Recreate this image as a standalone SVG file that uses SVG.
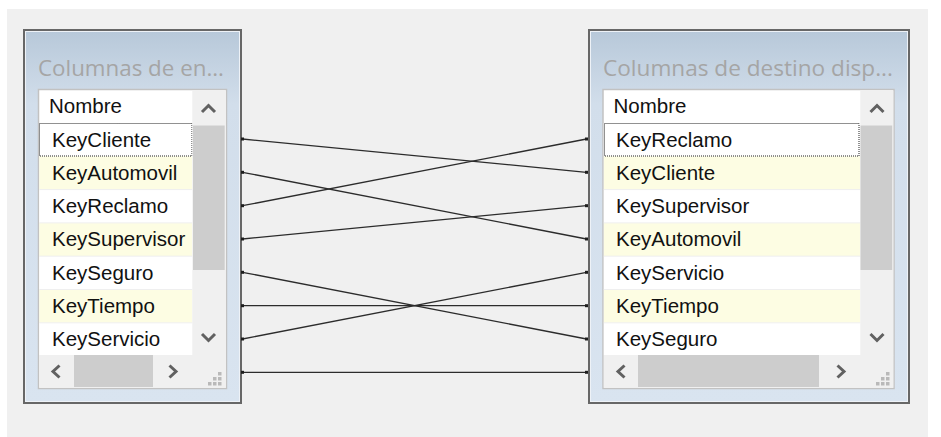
<svg xmlns="http://www.w3.org/2000/svg" width="941" height="437" viewBox="0 0 941 437">
  <defs>
    <linearGradient id="panelFill" x1="0" y1="0" x2="0" y2="1">
      <stop offset="0" stop-color="#b7c8d9"/>
      <stop offset="0.2" stop-color="#d2deeb"/>
      <stop offset="1" stop-color="#d9e4f0"/>
    </linearGradient>
    <marker id="dot" viewBox="0 0 4 4" refX="2" refY="2" markerWidth="4" markerHeight="4" markerUnits="userSpaceOnUse">
      <rect x="0.5" y="0.5" width="3" height="3" fill="#1e1e1e"/>
    </marker>
  </defs>
  <style>
    .frame { fill: url(#panelFill); stroke: #676767; stroke-width: 2; }
    .frame-inner { fill: none; stroke: #eef2f7; stroke-width: 1; }
    .title { font-family: "Open Sans", "Noto Sans", "Liberation Sans", sans-serif; font-size: 22px; fill: #a5a5a5; }
    .list { fill: #ffffff; stroke: #c2c2c2; stroke-width: 1.5; }
    .item { font-family: "Liberation Sans", Arial, sans-serif; font-size: 20.5px; fill: #111111; }
    .row-w { fill: #ffffff; }
    .row-y { fill: #fdfde3; }
    .sep { stroke: #efefef; stroke-width: 1; }
    .track { fill: #f0f0f0; }
    .thumb { fill: #cdcdcd; }
    .chev { fill: none; stroke: #616161; stroke-width: 3; stroke-linecap: butt; stroke-linejoin: miter; }
    .grip { fill: #b9b9b9; }
    .focus { fill: none; stroke: #222222; stroke-width: 1; stroke-dasharray: 1 1; }
    .link { stroke: #2c2c2c; stroke-width: 1.3; fill: none; marker-start: url(#dot); marker-end: url(#dot); }
  </style>

  <!-- canvas -->
  <rect x="0" y="0" width="941" height="437" fill="#ffffff"/>
  <rect x="7" y="9" width="921" height="428" fill="#f0f0f0"/>

  <!-- source column list -->
  <g id="source-panel">
    <rect class="frame" x="24" y="30" width="217" height="373"/>
    <rect class="frame-inner" x="25.5" y="31.5" width="214" height="370"/>
    <text class="title" x="38" y="76" textLength="186" lengthAdjust="spacingAndGlyphs">Columnas de en...</text>
    <rect class="list" x="38.5" y="89.5" width="188" height="299"/>

    <text class="item" x="49" y="113">Nombre</text>

    <g id="src-KeyCliente"><rect class="row-w" x="39.3" y="123" width="153" height="33.3"/><text class="item" x="52" y="146.5">KeyCliente</text></g>
    <g id="src-KeyAutomovil"><rect class="row-y" x="39.3" y="156.3" width="153" height="33.3"/><text class="item" x="52" y="179.8">KeyAutomovil</text></g>
    <g id="src-KeyReclamo"><rect class="row-w" x="39.3" y="189.6" width="153" height="33.3"/><text class="item" x="52" y="213.1">KeyReclamo</text></g>
    <g id="src-KeySupervisor"><rect class="row-y" x="39.3" y="222.9" width="153" height="33.3"/><text class="item" x="52" y="246.4">KeySupervisor</text></g>
    <g id="src-KeySeguro"><rect class="row-w" x="39.3" y="256.2" width="153" height="33.3"/><text class="item" x="52" y="279.7">KeySeguro</text></g>
    <g id="src-KeyTiempo"><rect class="row-y" x="39.3" y="289.5" width="153" height="33.3"/><text class="item" x="52" y="313">KeyTiempo</text></g>
    <g id="src-KeyServicio"><rect class="row-w" x="39.3" y="322.8" width="153" height="32.2"/><text class="item" x="52" y="346.3">KeyServicio</text></g>
    <path class="sep" d="M39.3 189.6H192.3M39.3 222.9H192.3M39.3 256.2H192.3M39.3 289.5H192.3M39.3 322.8H192.3"/>
    <rect class="focus" x="39.5" y="123.5" width="152.5" height="32.5"/>

    <!-- vertical scrollbar -->
    <rect class="track" x="192.3" y="90.3" width="33.5" height="265"/>
    <rect class="thumb" x="193" y="125.5" width="31.7" height="144.5"/>
    <polyline class="chev" points="202,112 208.5,105.5 215,112"/>
    <polyline class="chev" points="202,334 208.5,340.5 215,334"/>
    <!-- horizontal scrollbar -->
    <rect class="track" x="39.3" y="355" width="186.5" height="33"/>
    <rect class="thumb" x="74" y="355" width="79" height="32"/>
    <polyline class="chev" points="59.5,365.5 53,371.5 59.5,377.5"/>
    <polyline class="chev" points="169.5,365.5 176,371.5 169.5,377.5"/>
    <!-- size grip -->
    <path class="grip" d="M218 372h3.5v3.5h-3.5zM213 377h3.5v3.5h-3.5zM218 377h3.5v3.5h-3.5zM208 382h3.5v3.5h-3.5zM213 382h3.5v3.5h-3.5zM218 382h3.5v3.5h-3.5z"/>
  </g>

  <!-- destination column list -->
  <g id="dest-panel">
    <rect class="frame" x="589" y="30" width="320" height="373"/>
    <rect class="frame-inner" x="590.5" y="31.5" width="317" height="370"/>
    <text class="title" x="603" y="76" textLength="290" lengthAdjust="spacingAndGlyphs">Columnas de destino disp...</text>
    <rect class="list" x="603" y="89.5" width="291" height="299"/>

    <text class="item" x="613.5" y="113">Nombre</text>

    <g id="dst-KeyReclamo"><rect class="row-w" x="603.8" y="123" width="256.5" height="33.3"/><text class="item" x="616" y="146.5">KeyReclamo</text></g>
    <g id="dst-KeyCliente"><rect class="row-y" x="603.8" y="156.3" width="256.5" height="33.3"/><text class="item" x="616" y="179.8">KeyCliente</text></g>
    <g id="dst-KeySupervisor"><rect class="row-w" x="603.8" y="189.6" width="256.5" height="33.3"/><text class="item" x="616" y="213.1">KeySupervisor</text></g>
    <g id="dst-KeyAutomovil"><rect class="row-y" x="603.8" y="222.9" width="256.5" height="33.3"/><text class="item" x="616" y="246.4">KeyAutomovil</text></g>
    <g id="dst-KeyServicio"><rect class="row-w" x="603.8" y="256.2" width="256.5" height="33.3"/><text class="item" x="616" y="279.7">KeyServicio</text></g>
    <g id="dst-KeyTiempo"><rect class="row-y" x="603.8" y="289.5" width="256.5" height="33.3"/><text class="item" x="616" y="313">KeyTiempo</text></g>
    <g id="dst-KeySeguro"><rect class="row-w" x="603.8" y="322.8" width="256.5" height="32.2"/><text class="item" x="616" y="346.3">KeySeguro</text></g>
    <path class="sep" d="M603.8 189.6H860.3M603.8 222.9H860.3M603.8 256.2H860.3M603.8 289.5H860.3M603.8 322.8H860.3"/>
    <rect class="focus" x="604.5" y="123.5" width="254.5" height="32.5"/>

    <!-- vertical scrollbar -->
    <rect class="track" x="860.3" y="90.3" width="33" height="265"/>
    <rect class="thumb" x="860.5" y="125.5" width="31.7" height="144.5"/>
    <polyline class="chev" points="870.5,112 877,105.5 883.5,112"/>
    <polyline class="chev" points="870.5,334 877,340.5 883.5,334"/>
    <!-- horizontal scrollbar -->
    <rect class="track" x="603.8" y="355" width="289.5" height="33"/>
    <rect class="thumb" x="638" y="355" width="181" height="32"/>
    <polyline class="chev" points="624.5,365.5 618,371.5 624.5,377.5"/>
    <polyline class="chev" points="837.5,365.5 844,371.5 837.5,377.5"/>
    <!-- size grip -->
    <path class="grip" d="M886 372h3.5v3.5h-3.5zM881 377h3.5v3.5h-3.5zM886 377h3.5v3.5h-3.5zM876 382h3.5v3.5h-3.5zM881 382h3.5v3.5h-3.5zM886 382h3.5v3.5h-3.5z"/>
  </g>

  <!-- column mappings -->
  <g id="connectors">
    <line class="link" x1="242.5" y1="139" x2="586.5" y2="172.3"/>
    <line class="link" x1="242.5" y1="172.3" x2="586.5" y2="239"/>
    <line class="link" x1="242.5" y1="205.7" x2="586.5" y2="139"/>
    <line class="link" x1="242.5" y1="239" x2="586.5" y2="205.7"/>
    <line class="link" x1="242.5" y1="272.3" x2="586.5" y2="339"/>
    <line class="link" x1="242.5" y1="305.7" x2="586.5" y2="305.7"/>
    <line class="link" x1="242.5" y1="339" x2="586.5" y2="272.3"/>
    <line class="link" x1="242.5" y1="372.3" x2="586.5" y2="372.3"/>
  </g>
</svg>
